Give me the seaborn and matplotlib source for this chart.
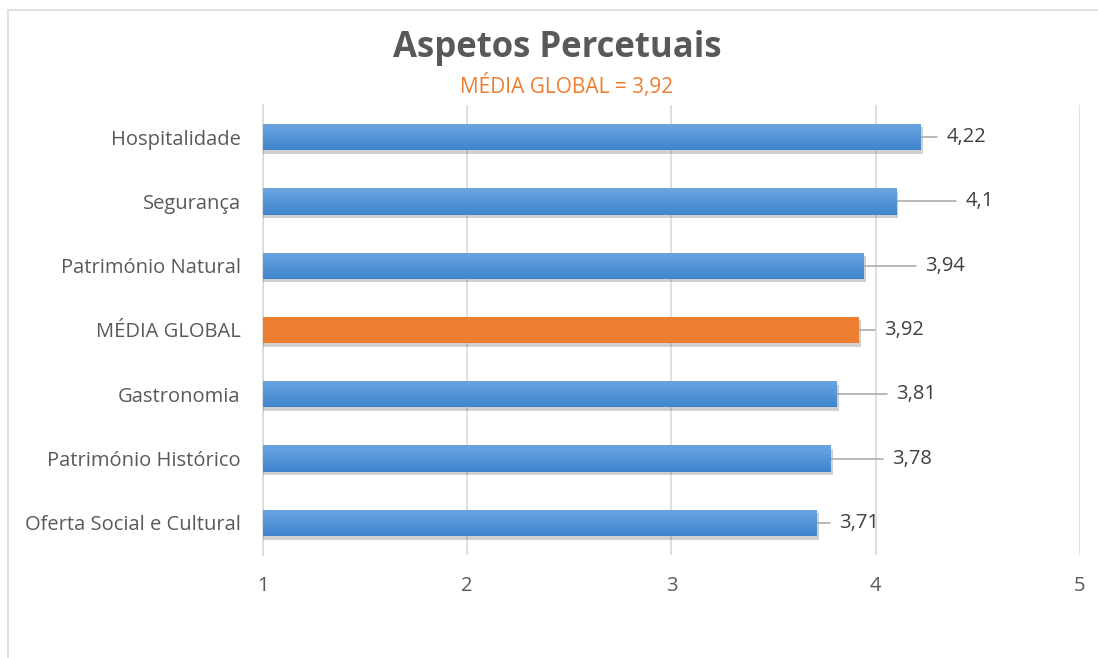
import numpy as np
import pandas as pd
import matplotlib
matplotlib.use("Agg")
import matplotlib.pyplot as plt
import matplotlib.patheffects as pe
from matplotlib.colors import to_rgb
from matplotlib.lines import Line2D
import seaborn as sns

# Chart data
categories = ["Hospitalidade", "Segurança", "Património Natural", "MÉDIA GLOBAL",
              "Gastronomia", "Património Histórico", "Oferta Social e Cultural"]
scores = [4.22, 4.1, 3.94, 3.92, 3.81, 3.78, 3.71]
value_labels = ["4,22", "4,1", "3,94", "3,92", "3,81", "3,78", "3,71"]
x_ticks = [1, 2, 3, 4, 5]

# label placement (distance from bar end, in data units) - labels were dragged in the original
label_offsets = [0.127, 0.34, 0.30, 0.12, 0.29, 0.30, 0.11]

col_blue = "#4F8FD6"
col_blue_top = "#6BA5E0"
col_blue_bot = "#3F85CE"
col_orange = "#ED7D31"
col_text = "#595959"
col_grid = "#D9D9D9"

sns.set_style("white")
plt.rcParams["font.family"] = ["Open Sans", "DejaVu Sans"]

df = pd.DataFrame({"category": categories, "score": scores})
palette = {c: (col_orange if c == "MÉDIA GLOBAL" else col_blue) for c in categories}

fig = plt.figure(figsize=(10.98, 6.58), dpi=100)
ax = fig.add_axes([0.2395, 0.1565, 0.7441, 0.684])

sns.barplot(data=df, y="category", x="score", hue="category", palette=palette,
            order=categories, width=0.41, legend=False, ax=ax, saturation=1)

# Excel-like soft drop shadow + vertical gradient on the blue bars
x_min = x_ticks[0]
grad = np.linspace(0, 1, 32)[:, None, None]
top, bot = np.array(to_rgb(col_blue_top)), np.array(to_rgb(col_blue_bot))
grad_img = top * (1 - grad) + bot * grad
for bar, cat in zip(ax.patches, categories):
    bar.set_linewidth(0)
    bar.set_path_effects([pe.SimplePatchShadow(offset=(1.5, -2.5), shadow_rgbFace="#666666", alpha=0.3),
                          pe.Normal()])
    if cat != "MÉDIA GLOBAL":
        x0, y0, w, h = bar.get_x(), bar.get_y(), bar.get_width(), bar.get_height()
        im = ax.imshow(grad_img, extent=(max(x0, x_min), x0 + w, y0 + h, y0), origin="upper",
                       aspect="auto", zorder=bar.get_zorder() + 0.1)
        im.set_clip_path(bar)

ax.set_xlim(x_min, x_ticks[-1])
ax.set_xticks(x_ticks)
ax.set_xticklabels([str(t) for t in x_ticks])
ax.set_ylim(len(categories) - 0.5, -0.5)
ax.set_xlabel("")
ax.set_ylabel("")

# Grid & spines
ax.grid(axis="x", color=col_grid, linewidth=1.2, zorder=0)
ax.set_axisbelow(True)
for s in ["top", "right", "bottom"]:
    ax.spines[s].set_visible(False)
ax.spines["left"].set_color(col_grid)
ax.spines["left"].set_linewidth(1.2)
ax.spines["left"].set_zorder(0.5)
ax.tick_params(axis="both", length=0, labelsize=14.5, colors=col_text)
ax.tick_params(axis="y", pad=16)
ax.tick_params(axis="x", pad=15)

# Data labels with leader lines
for i, (v, lab, off) in enumerate(zip(scores, value_labels, label_offsets)):
    tx = v + off
    ax.plot([v, tx - 0.045], [i, i], color="#A6A6A6", linewidth=1.1, zorder=1, clip_on=False)
    ax.text(tx, i, lab, va="center", ha="left", fontsize=14.5, color="#404040")

# Title and subtitle
fig.text(0.508, 0.927, "Aspetos Percetuais", ha="center", va="center",
         fontsize=25, weight="bold", color=col_text)
fig.text(0.516, 0.869, "MÉDIA GLOBAL = 3,92", ha="center", va="center",
         fontsize=15, color=col_orange)

# Chart area border (top and left edges visible)
fig.add_artist(Line2D([8 / 1098, 1], [1 - 10 / 658, 1 - 10 / 658], color="#D9D9D9",
                      linewidth=1.2, transform=fig.transFigure))
fig.add_artist(Line2D([8 / 1098, 8 / 1098], [1 - 10 / 658, 0], color="#D9D9D9",
                      linewidth=1.2, transform=fig.transFigure))

fig.savefig("out.png", dpi=100)
